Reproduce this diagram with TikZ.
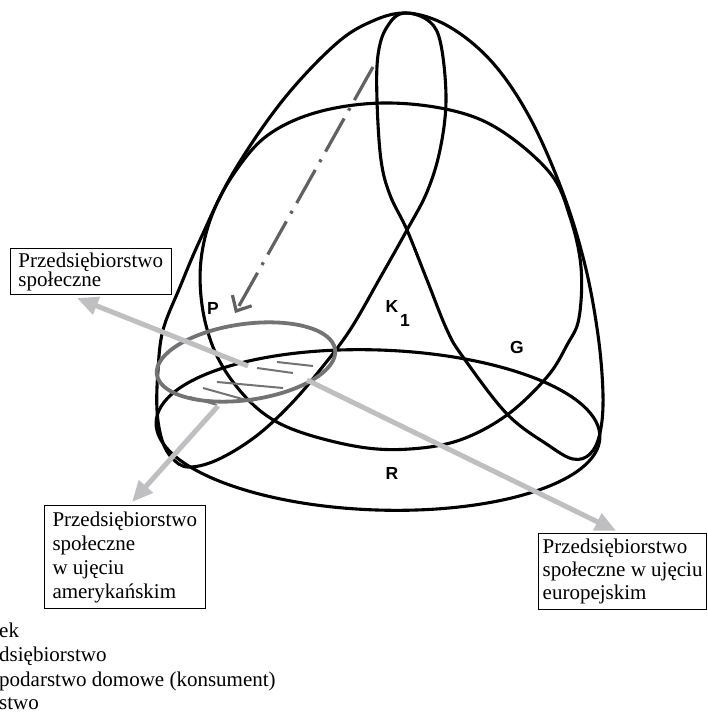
\documentclass[tikz,border=0pt]{standalone}
\usepackage{fontspec}
\setmainfont{Liberation Serif}
\newfontfamily\lblfont{Liberation Sans}
\usepackage{xcolor}
\definecolor{arrgray}{rgb}{0.75,0.75,0.76}
\definecolor{ovalgray}{rgb}{0.45,0.45,0.45}
\definecolor{dashgray}{rgb}{0.38,0.38,0.38}
\usetikzlibrary{arrows.meta}

\begin{document}
\begin{tikzpicture}[x=1pt, y=1pt,
      ring/.style={draw=black, line width=3.1pt},
      oval/.style={draw=ovalgray, line width=3.8pt},
      hatch/.style={line width=2pt, color=ovalgray},
      lbl/.style={font=\lblfont\bfseries\fontsize{17.5}{17.5}\selectfont, inner sep=0pt},
      box/.style={draw, line width=1pt, align=left, inner xsep=8pt, inner ysep=6pt},
      garr/.style={-{Triangle[length=21pt,width=18pt]}, line width=5pt, color=arrgray},
      darr/.style={-{Straight Barb[length=12pt,width=22pt]}, line width=3.2pt, color=dashgray,
                   dash pattern=on 38pt off 9pt on 3pt off 9pt}
  ]
    \useasboundingbox (0,0) rectangle (708,716);
    % right leaf
    \draw[ring] plot[smooth cycle, tension=0.6] coordinates {(406,703) (448,690) (492,654)
      (530,598) (563,523) (585,451) (598,381) (603,321) (600,283) (590,262) (573,257)
      (548,271) (507,302) (463,359) (447,386) (427,436) (407,486) (390,521) (381,556)
      (377,616) (378,661) (387,689)};
    % left leaf
    \draw[ring] plot[smooth cycle, tension=0.6] coordinates {(406,703) (430,694) (441,671)
      (446,616) (440,566) (427,524) (407,486) (380,438) (350,386) (320,346) (290,311)
      (255,279) (217,256) (188,249) (172,258) (162,276) (157,306) (158,346) (163,386)
      (180,429) (200,476) (233,543) (283,616) (337,673) (375,696)};
    % round set
    \draw[ring] plot[smooth cycle, tension=0.6] coordinates {(383,613) (450,606) (500,586)
      (550,543) (570,499) (581,449) (579,398) (567,371) (547,339) (507,301) (460,276)
      (410,267) (360,269) (300,284) (263,303) (233,334) (213,369) (202,411) (201,456)
      (212,501) (235,544) (268,581) (318,604)};
    % base
    \draw[ring, rotate around={-2:(378,286)}] (378,286) ellipse [x radius=222, y radius=80];
    % social enterprise
    \draw[oval, rotate around={8:(246,354)}] (246,354) ellipse [x radius=90, y radius=38];
    \foreach \xa/\ya/\xb/\yb in {277/354/313/350, 257/348/293/343, 217/334/283/328,
                                 203/328/253/314, 190/319/217/311}
      \draw[hatch] (\xa,\ya) -- (\xb,\yb);

    \node[lbl] (labP) at (213,408) {P};
    \node[lbl] (labK) at (392,410) {K};
    \node[lbl] (labKi) at (405,396) {1};
    \node[lbl] (labG) at (517,369) {G};
    \node[lbl] (labR) at (392,243) {R};

    \node[box, anchor=north west, inner ysep=4pt, font=\fontsize{21}{19}\selectfont]
      (boxsoc) at (10,468) {Przedsiębiorstwo\\społeczne};
    \node[box, anchor=north west, font=\fontsize{21}{24}\selectfont]
      (boxam) at (44,211) {Przedsiębiorstwo\\społeczne\\w ujęciu\\amerykańskim};
    \node[box, anchor=north east, inner xsep=4pt, inner ysep=5.5pt, font=\fontsize{21}{23}\selectfont]
      (boxeu) at (707,183) {Przedsiębiorstwo\\społeczne w ujęciu\\europejskim};

    \coordinate (s1) at (248,350);
    \coordinate (s2) at (307,336);
    \coordinate (s3) at (218,310);
    \draw[garr] (s1) -- ([xshift=67pt, yshift=-3pt]boxsoc.south west);
    \draw[garr] (s2) -- ([xshift=78pt, yshift=2pt]boxeu.north west);
    \draw[garr] (s3) -- ([xshift=88pt, yshift=3pt]boxam.north west);

    \coordinate (dtop) at (373,649);
    \coordinate (dend) at (235,403);
    \draw[darr] (dtop) -- (dend);

    % legend, cut at the left edge
    \foreach \txt [count=\i] in {ek, dsiębiorstwo, podarstwo domowe (konsument), stwo}
      \node[anchor=base west, inner sep=0pt, font=\fontsize{21}{24}\selectfont]
        (leg\i) at (-1,{78-24*(\i-1)}) {\txt};
  \end{tikzpicture}
\end{document}
